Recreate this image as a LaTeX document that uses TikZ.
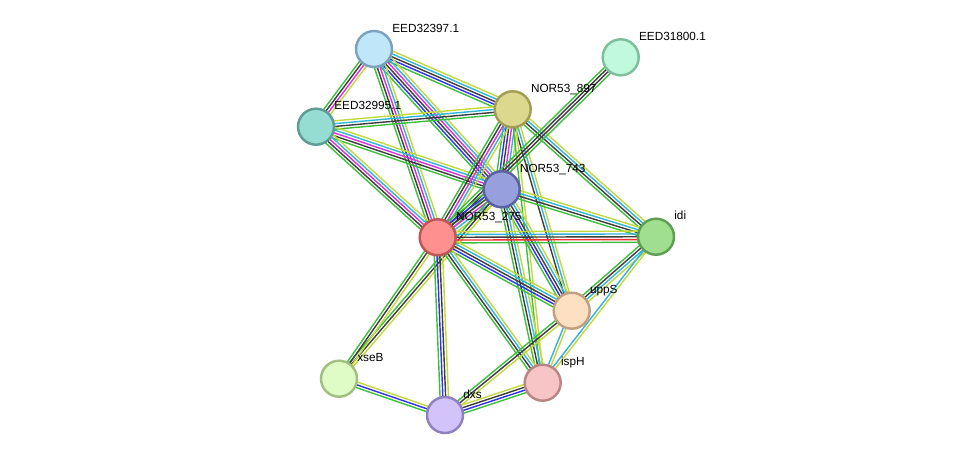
\documentclass[tikz,border=0pt]{standalone}
\usepackage{fontspec}
\setmainfont{Liberation Sans}
\usetikzlibrary{calc}
\usetikzlibrary{backgrounds}

% evidence channels
\definecolor{sgreen}{HTML}{3DBE3D}
\definecolor{sred}{HTML}{F23030}
\definecolor{sblue}{HTML}{3030F5}
\definecolor{sblack}{HTML}{3C3C3C}
\definecolor{smagenta}{HTML}{DD2EDD}
\definecolor{scyan}{HTML}{2FB4DA}
\definecolor{syellow}{HTML}{C3D83A}

% protein fills and rims
\definecolor{f32397}{HTML}{C0E6FA}\definecolor{d32397}{HTML}{7BA3BF}
\definecolor{f31800}{HTML}{C1F9DC}\definecolor{d31800}{HTML}{7DBF9C}
\definecolor{f897}{HTML}{DCD98F}\definecolor{d897}{HTML}{A19D55}
\definecolor{f32995}{HTML}{95DDD3}\definecolor{d32995}{HTML}{5E9C94}
\definecolor{f743}{HTML}{97A0DC}\definecolor{d743}{HTML}{5A62A3}
\definecolor{f275}{HTML}{FF9090}\definecolor{d275}{HTML}{BF5555}
\definecolor{fidi}{HTML}{9FDF8F}\definecolor{didi}{HTML}{5E9F55}
\definecolor{fupps}{HTML}{FDE0C2}\definecolor{dupps}{HTML}{C0A080}
\definecolor{fxseb}{HTML}{E0FCC6}\definecolor{dxseb}{HTML}{A0BF80}
\definecolor{fisph}{HTML}{F7C5C5}\definecolor{disph}{HTML}{BB8585}
\definecolor{fdxs}{HTML}{D3C3FB}\definecolor{ddxs}{HTML}{9080C0}

% parallel evidence lines between two proteins
\newcommand{\ppilink}[4]{%
    \foreach \col [count=\k] in {#4}{
        \pgfmathsetmacro{\off}{0.056*(\k-(#3+1)/2)}
        \draw[ppiline, \col] ($(#1.center)!\off cm!90:(#2.center)$) -- ($(#2.center)!\off cm!-90:(#1.center)$);
    }
}

\begin{document}
\begin{tikzpicture}[
            x=0.02cm, y=-0.02cm,
            protein/.style 2 args={circle, minimum size=0.72cm, inner sep=0pt, line width=1.4pt, fill=#1, draw=#2},
            genelabel/.style={anchor=base west, inner sep=0pt, font=\fontsize{6.7}{8}\selectfont},
            ppiline/.style={line width=0.8pt}
        ]
            \useasboundingbox (0, 0) rectangle (976, 460);

            % proteins
            \node[protein={f32397}{d32397}] (e32397) at (374, 49) {};
            \node[protein={f31800}{d31800}] (e31800) at (620.7, 57.3) {};
            \node[protein={f897}{d897}] (n897) at (512.7, 109.3) {};
            \node[protein={f32995}{d32995}] (e32995) at (316, 126.7) {};
            \node[protein={f743}{d743}] (n743) at (501.7, 189.3) {};
            \node[protein={f275}{d275}] (n275) at (437.7, 237.3) {};
            \node[protein={fidi}{didi}] (idi) at (656, 236.7) {};
            \node[protein={fupps}{dupps}] (upps) at (571.7, 310.7) {};
            \node[protein={fxseb}{dxseb}] (xseb) at (339, 378.7) {};
            \node[protein={fisph}{disph}] (isph) at (542.7, 382.7) {};
            \node[protein={fdxs}{ddxs}] (dxs) at (445, 415) {};

            % names
            \node[genelabel] (t32397) at ([shift={(18, -17)}]e32397) {EED32397.1};
            \node[genelabel] (t31800) at ([shift={(18, -17)}]e31800) {EED31800.1};
            \node[genelabel] (t897) at ([shift={(18, -17)}]n897) {NOR53\_897};
            \node[genelabel] (t32995) at ([shift={(18, -17)}]e32995) {EED32995.1};
            \node[genelabel] (t743) at ([shift={(18, -17)}]n743) {NOR53\_743};
            \node[genelabel] (t275) at ([shift={(18, -17)}]n275) {NOR53\_275};
            \node[genelabel] (tidi) at ([shift={(18, -17)}]idi) {idi};
            \node[genelabel] (tupps) at ([shift={(18, -17)}]upps) {uppS};
            \node[genelabel] (txseb) at ([shift={(18, -17)}]xseb) {xseB};
            \node[genelabel] (tisph) at ([shift={(18, -17)}]isph) {ispH};
            \node[genelabel] (tdxs) at ([shift={(18, -17)}]dxs) {dxs};

            % interactions
            \begin{scope}[on background layer]
                \ppilink{e32397}{e32995}{4}{sgreen, sblack, smagenta, syellow}
                \ppilink{e32397}{n897}{5}{sgreen, sblue, sblack, scyan, syellow}
                \ppilink{e32397}{n743}{6}{sgreen, sblue, sblack, smagenta, scyan, syellow}
                \ppilink{e32397}{n275}{5}{sgreen, sblack, smagenta, scyan, syellow}
                \ppilink{e32995}{n897}{4}{sgreen, sblack, scyan, syellow}
                \ppilink{e32995}{n743}{5}{sgreen, sblack, smagenta, scyan, syellow}
                \ppilink{e32995}{n275}{5}{sgreen, sblack, smagenta, scyan, syellow}
                \ppilink{n897}{n743}{6}{sgreen, sblue, sblack, smagenta, scyan, syellow}
                \ppilink{n897}{n275}{5}{sgreen, sblack, smagenta, scyan, syellow}
                \ppilink{n897}{idi}{4}{sgreen, sblack, scyan, syellow}
                \ppilink{n897}{upps}{3}{sblack, scyan, syellow}
                \ppilink{n897}{isph}{2}{sgreen, syellow}
                \ppilink{e31800}{n275}{4}{sgreen, sblack, sblack, sgreen}
                \ppilink{n743}{n275}{6}{sgreen, sblue, sblack, smagenta, scyan, syellow}
                \ppilink{n743}{idi}{4}{sgreen, sblack, scyan, syellow}
                \ppilink{n743}{upps}{5}{sgreen, sblue, sblack, scyan, syellow}
                \ppilink{n743}{isph}{4}{sgreen, sblack, scyan, syellow}
                \ppilink{n743}{xseb}{3}{sgreen, sblack, syellow}
                \ppilink{n275}{idi}{5}{sgreen, sred, sblack, scyan, syellow}
                \ppilink{n275}{upps}{5}{sgreen, sblue, sblack, scyan, syellow}
                \ppilink{n275}{isph}{4}{sgreen, sblack, scyan, syellow}
                \ppilink{n275}{xseb}{3}{sgreen, sblack, syellow}
                \ppilink{n275}{dxs}{4}{sgreen, sblue, sblack, syellow}
                \ppilink{idi}{upps}{4}{sgreen, sblack, scyan, syellow}
                \ppilink{idi}{isph}{2}{scyan, syellow}
                \ppilink{upps}{isph}{2}{scyan, syellow}
                \ppilink{upps}{dxs}{3}{sgreen, sblack, syellow}
                \ppilink{xseb}{dxs}{3}{sgreen, sblue, syellow}
                \ppilink{dxs}{isph}{4}{sgreen, sblue, sblack, syellow}
            \end{scope}

        \end{tikzpicture}
\end{document}
